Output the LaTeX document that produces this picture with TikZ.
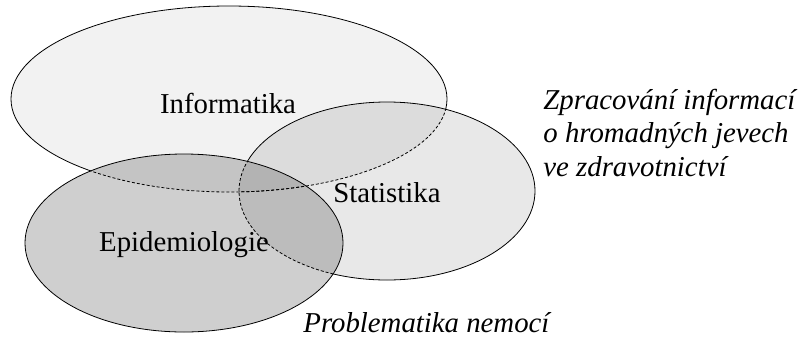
\documentclass[tikz,border=0pt]{standalone}
\usepackage{fontspec}
\setmainfont{Liberation Serif}
\begin{document}
\begin{tikzpicture}[x=0.5pt,y=-0.5pt,
  lbl/.style={inner sep=0pt, font=\fontsize{14.4}{16}\selectfont},
  note/.style={inner sep=0pt, align=left, font=\fontsize{14.4}{16.6}\selectfont\itshape},
  hidden/.style={draw=black, line width=0.4pt, dash pattern=on 1.5pt off 1pt},
  edge/.style={draw=black, line width=0.4pt}]
\useasboundingbox (0,0) rectangle (808,338);
\def\infpath{(229,99) ellipse [x radius=109pt, y radius=46.5pt]}
\def\statpath{(387,191) ellipse [x radius=74pt, y radius=44.5pt]}
\def\epipath{(184,243) ellipse [x radius=79.5pt, y radius=44.5pt]}
% fills
\fill[black, fill opacity=0.05] \infpath;
\fill[black, fill opacity=0.09] \statpath;
\fill[black, fill opacity=0.19] \epipath;
% Informatika border: solid outside others, dashed inside
\begin{scope}[even odd rule]
  \clip (-10,-10) rectangle (820,350) \statpath;
  \begin{scope}[even odd rule]
    \clip (-10,-10) rectangle (820,350) \epipath;
    \path[edge] \infpath;
  \end{scope}
\end{scope}
\begin{scope}
  \clip \statpath;
  \path[hidden] \infpath;
\end{scope}
\begin{scope}
  \clip \epipath;
  \path[hidden] \infpath;
\end{scope}
% Statistika border
\begin{scope}[even odd rule]
  \clip (-10,-10) rectangle (820,350) \epipath;
  \path[edge] \statpath;
\end{scope}
\begin{scope}
  \clip \epipath;
  \path[hidden] \statpath;
\end{scope}
% Epidemiologie border
\path[edge] \epipath;
% labels
\node[lbl] (inf) at (228,103) {Informatika};
\node[lbl] (stat) at (387,193) {Statistika};
\node[lbl] (epi) at (184,245) {Epidemiologie};
\node[note, anchor=north west] (zprac) at (543,89) {Zpracování informací\\o hromadných jevech\\ve zdravotnictví};
\node[note, anchor=base west] (probl) at (303,332) {Problematika nemocí};
\end{tikzpicture}
\end{document}
